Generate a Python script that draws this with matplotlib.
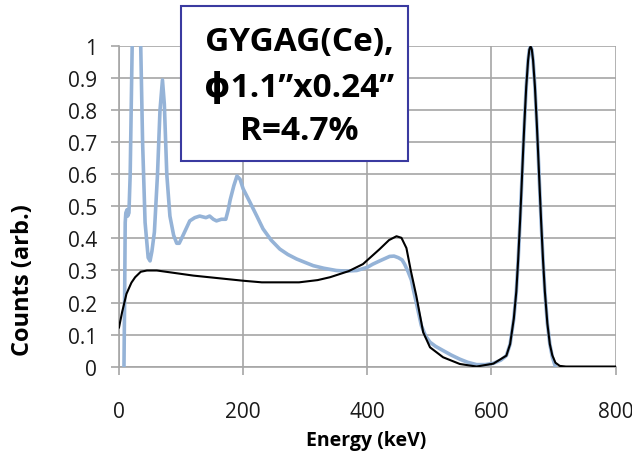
import matplotlib.pyplot as plt
from matplotlib.patches import Rectangle

# GYGAG(Ce) 662 keV spectrum, measured (blue) vs. simulated (black)
meas_energy = [8, 9, 10, 11, 13, 14, 16, 18, 20, 22, 26, 30, 33, 35, 38, 42, 47,
               50, 53, 57, 62, 66, 70, 73, 77, 82, 88, 93, 97, 102, 108, 114,
               122, 130, 140, 146, 152, 157, 165, 172, 176, 179, 185, 190, 195,
               200, 211, 222, 232, 245, 259, 272, 286, 300, 313, 330, 350, 365,
               383, 400, 409, 420, 436, 443, 450, 456, 460, 466, 471, 474, 480,
               487, 494, 501, 510, 522, 535, 549, 562, 576, 590, 603, 615, 624,
               630, 636, 640, 643, 646, 648, 651, 653, 656, 659, 661, 663, 665,
               667, 670, 673, 675, 678, 680, 683, 686, 690, 694, 698, 703]
meas_counts = [0.0, 0.2, 0.45, 0.48, 0.49, 0.47, 0.48, 0.6, 0.85, 1.1, 1.5, 1.6,
               1.35, 1.0, 0.7, 0.45, 0.34, 0.33, 0.36, 0.42, 0.6, 0.8, 0.895,
               0.82, 0.6, 0.47, 0.41, 0.385, 0.385, 0.405, 0.43, 0.455, 0.465,
               0.47, 0.465, 0.47, 0.46, 0.455, 0.46, 0.46, 0.49, 0.52, 0.565,
               0.595, 0.585, 0.555, 0.513, 0.47, 0.43, 0.395, 0.367, 0.35, 0.336,
               0.325, 0.315, 0.307, 0.30, 0.298, 0.30, 0.31, 0.32, 0.33, 0.344,
               0.345, 0.34, 0.333, 0.32, 0.295, 0.27, 0.242, 0.19, 0.128, 0.095,
               0.076, 0.063, 0.05, 0.036, 0.023, 0.013, 0.006, 0.006, 0.01, 0.02,
               0.034, 0.07, 0.15, 0.234, 0.334, 0.452, 0.54, 0.674, 0.76, 0.874,
               0.957, 0.99, 1.0, 0.99, 0.957, 0.874, 0.76, 0.674, 0.54, 0.452,
               0.334, 0.234, 0.135, 0.07, 0.03, 0.0]

sim_energy = [0, 5, 12, 20, 26, 35, 45, 61, 120, 200, 230, 290, 320, 340, 370,
              393, 420, 435, 447, 455, 463, 470, 479, 490, 501, 522, 549, 576,
              603, 624, 630, 636, 640, 643, 646, 648, 651, 653, 656, 659, 661,
              663, 665, 667, 670, 673, 675, 678, 680, 683, 686, 690, 694, 698,
              703, 710, 720, 800]
sim_counts = [0.122, 0.17, 0.227, 0.262, 0.279, 0.296, 0.30, 0.30, 0.284, 0.268,
              0.263, 0.263, 0.27, 0.279, 0.298, 0.32, 0.367, 0.395, 0.407, 0.402,
              0.37, 0.30, 0.22, 0.107, 0.06, 0.029, 0.008, 0.0, 0.009, 0.034,
              0.07, 0.15, 0.234, 0.334, 0.452, 0.54, 0.674, 0.76, 0.874, 0.957,
              0.99, 1.0, 0.99, 0.957, 0.874, 0.76, 0.674, 0.54, 0.452, 0.334,
              0.234, 0.135, 0.07, 0.035, 0.012, 0.002, 0.0, 0.0]

x_ticks = [0, 200, 400, 600, 800]
y_ticks = [0, 0.1, 0.2, 0.3, 0.4, 0.5, 0.6, 0.7, 0.8, 0.9, 1]
y_tick_labels = ["0", "0.1", "0.2", "0.3", "0.4", "0.5", "0.6", "0.7", "0.8", "0.9", "1"]
title_lines = ["GYGAG(Ce),", "\u03d51.1\u201dx0.24\u201d", "R=4.7%"]

plt.rcParams['font.family'] = ['Open Sans', 'DejaVu Sans']
grid_col = '#a6a6a6'

fig = plt.figure(figsize=(6.32, 4.6), dpi=100)
ax = fig.add_axes([0.1883, 0.201, 0.7858, 0.696])

ax.plot(meas_energy, meas_counts, color='#95b3d7', lw=2.6, zorder=3)
ax.plot(sim_energy, sim_counts, color='black', lw=1.5, zorder=4)

ax.set_xlim(0, 800)
ax.set_ylim(0, 1)
ax.set_xticks(x_ticks)
ax.set_xticklabels([str(v) for v in x_ticks])
ax.set_yticks(y_ticks)
ax.set_yticklabels(y_tick_labels)
ax.grid(True, color=grid_col, lw=1.2)
ax.set_axisbelow(True)
for s in ['top', 'right']:
    ax.spines[s].set_visible(False)
for s in ['left', 'bottom']:
    ax.spines[s].set_color(grid_col)
    ax.spines[s].set_linewidth(1.2)
ax.tick_params(axis='both', direction='out', length=6, width=1.2,
               color=grid_col, labelsize=15, labelcolor='#1a1a1a')
ax.tick_params(axis='x', pad=19)
ax.tick_params(axis='y', pad=10)

fig.text(366 / 632, 1 - 441 / 460, "Energy (keV)", ha='center', va='center',
         fontsize=14, fontweight='bold')
fig.text(23 / 632, 1 - 280 / 460, "Counts (arb.)", ha='center', va='center',
         rotation=90, fontsize=17, fontweight='bold')

# title box
box = Rectangle((181 / 632, 1 - 162 / 460), 227 / 632, 155 / 460,
                transform=fig.transFigure, facecolor='white',
                edgecolor='#3a3aa0', lw=1.5, zorder=10)
fig.patches.append(box)
for line, yp in zip(title_lines, [42, 88, 131]):
    fig.text(299 / 632, 1 - yp / 460, line, ha='center', va='center',
             fontsize=24, fontweight='bold', zorder=11)

fig.savefig('out.png', dpi=100)
